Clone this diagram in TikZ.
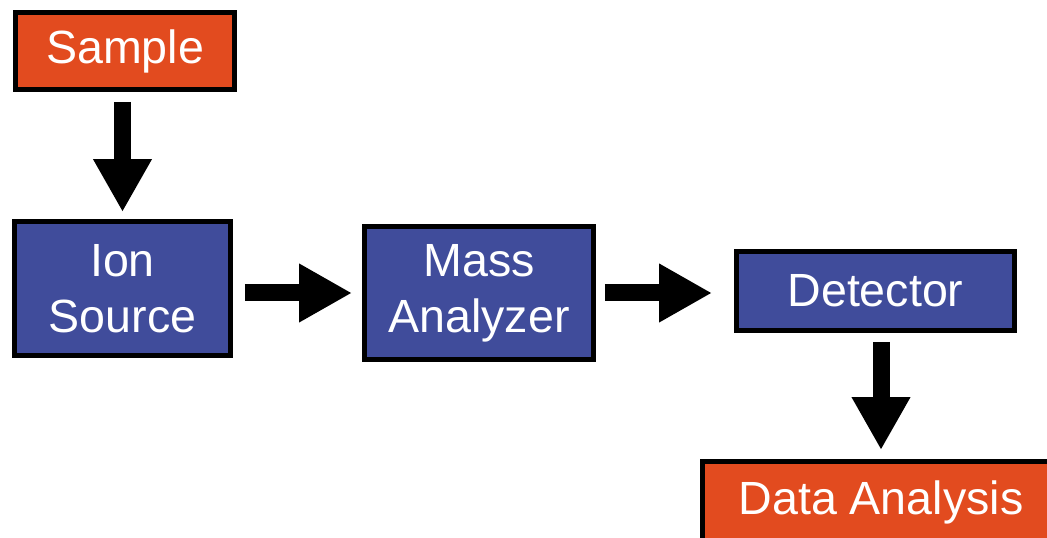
\documentclass[tikz,border=0pt]{standalone}
\usepackage{fontspec}
\setmainfont{Liberation Sans}
\usetikzlibrary{arrows.meta}

\definecolor{sampleorange}{RGB}{226,75,31}
\definecolor{stageblue}{RGB}{64,76,155}

\begin{document}
\begin{tikzpicture}[
    % Define styles
    stage/.style={
        rectangle,
        draw=black,
        line width=2.8pt,
        fill=stageblue,
        text=white,
        align=center,
        font=\fontsize{26.5pt}{32pt}\selectfont,
        inner sep=0pt
    },
    endpoint/.style={
        stage,
        fill=sampleorange
    },
    bigarrow/.style={
        -{Triangle[width=1.1cm, length=1.06cm]},
        line width=0.34cm,
        black
    }
]

% Frame of the page
\useasboundingbox (0,0) rectangle (20.94,10.74);

% Variables
\def\colAx{2.45}
\def\colBx{9.58}
\def\colCx{17.51}
\def\rowy{4.92}

% Input
\node[endpoint, minimum width=4.38cm, minimum height=1.54cm] (sample) at (2.50,9.72) {Sample};

% Spectrometer stages
\node[stage, minimum width=4.32cm, minimum height=2.68cm] (ionsource) at (\colAx,4.97) {Ion\\Source};
\node[stage, minimum width=4.58cm, minimum height=2.66cm] (analyzer) at (\colBx,4.88) {Mass\\Analyzer};
\node[stage, minimum width=5.56cm, minimum height=1.58cm] (detector) at (\colCx,\rowy) {Detector};

% Output
\node[endpoint, minimum width=7.14cm, minimum height=1.62cm] (analysis) at (17.62,0.70) {Data Analysis};

% Arrows
\draw[bigarrow, shorten <=0.2cm, shorten >=0.14cm] (sample.south -| ionsource.north) -- (ionsource.north);
\draw[bigarrow, shorten <=0.24cm, shorten >=0.2cm] (ionsource.east |- analyzer.west) -- (analyzer.west);
\draw[bigarrow, shorten <=0.18cm, shorten >=0.44cm] (analyzer.east) -- (analyzer.east -| detector.west);
\draw[bigarrow, shorten <=0.18cm, shorten >=0.18cm] (detector.south -| analysis.north) -- (analysis.north);

\end{tikzpicture}
\end{document}
